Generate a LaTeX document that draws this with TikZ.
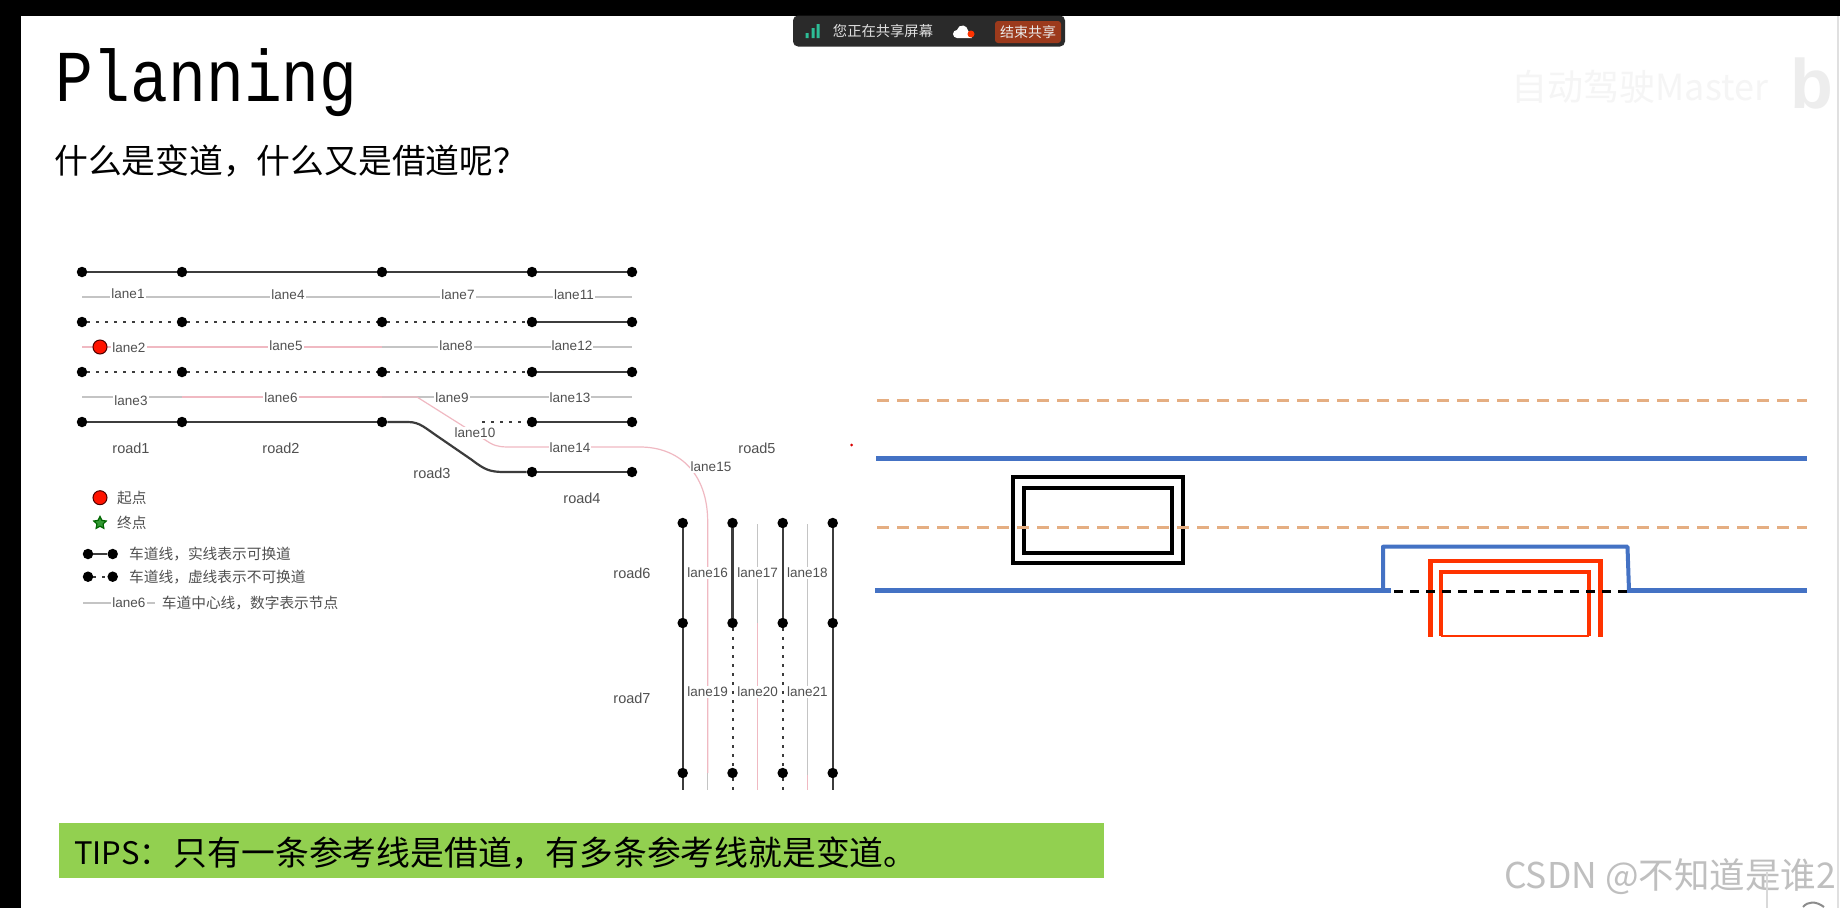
\documentclass[tikz,border=0pt]{standalone}
\usepackage{fontspec}
\setmainfont{Liberation Sans}
\newfontfamily\cjk{Noto Sans CJK SC}
\newfontfamily\headfont{Liberation Mono}
\usetikzlibrary{positioning,shapes.geometric}
\definecolor{lanegray}{HTML}{C4C4C4}
\definecolor{lanepink}{HTML}{F0B9C2}
\definecolor{roadgray}{HTML}{3C3C3C}
\definecolor{labelgray}{HTML}{505050}
\definecolor{bluelane}{HTML}{4472C4}
\definecolor{orangelane}{HTML}{E5AE82}
\definecolor{redcar}{HTML}{FF3300}
\definecolor{tipgreen}{HTML}{92D050}
\definecolor{barback}{HTML}{2A2A2A}
\definecolor{barbutton}{HTML}{9C3A1C}
\definecolor{bargreen}{HTML}{2DBD96}

\begin{document}
\begin{tikzpicture}[
  x=1pt, y=-1pt, on grid,
  dot/.style={circle, fill=black, inner sep=0pt, minimum size=10.5pt},
  road/.style={draw=roadgray, line width=2.2pt},
  roaddot/.style={draw=roadgray, line width=2pt, dash pattern=on 3pt off 6pt},
  lane/.style={draw=lanegray, line width=1.2pt},
  lanered/.style={draw=lanepink, line width=1.2pt},
  lanelabel/.style={font=\fontsize{13.5}{14}\selectfont, text=labelgray, fill=white, inner sep=1pt},
  roadlabel/.style={font=\fontsize{14.5}{15}\selectfont, text=labelgray, inner sep=0pt},
  legendtext/.style={font=\cjk\fontsize{14.7}{15}\selectfont, text=labelgray, inner sep=0pt, anchor=west},
  bluestroke/.style={draw=bluelane, line width=4.5pt},
  orangestroke/.style={draw=orangelane, line width=3pt, dash pattern=on 12pt off 8pt},
  blackbox/.style={draw=black, line width=4.5pt},
  redstroke/.style={draw=redcar, line width=4.5pt}
]
\useasboundingbox (0,0) rectangle (1840,908);
\fill[white] (0,0) rectangle (1840,908);
\fill[black] (0,0) rectangle (1840,16);
\fill[black] (0,0) rectangle (21,908);
\draw[black!12, line width=1.5pt] (1838,16) -- (1838,908);

% heading
\node[anchor=base west, inner sep=0pt, font=\headfont\fontsize{63}{63}\selectfont] (heading) at (55,101) {\scalebox{1}[1.16]{Planning}};
\node[anchor=west, inner sep=0pt, font=\cjk\fontsize{33.8}{34}\selectfont] (question) at (54,161) {什么是变道，什么又是借道呢？};

% share bar
\node[fill=barback, rounded corners=5pt, minimum width=272pt, minimum height=31pt, inner sep=0pt] (sharebar) at (929,31) {};
\fill[bargreen] (805.5,33) rectangle (808.5,38) (811.5,28) rectangle (814.5,38) (816.5,24) rectangle (819.5,38);
\node[font=\cjk\fontsize{14.3}{15}\selectfont, text=black!12, inner sep=0pt] (sharetext) at (883,31) {您正在共享屏幕};
\fill[white] (957,38) arc (270:90:4pt) arc (170:10:5.5pt) -- (972,38) -- cycle;
\node[circle, fill=redcar, inner sep=0pt, minimum size=7pt] (cloudred) at (971,34) {};
\node[fill=barbutton, rounded corners=3pt, minimum width=66pt, minimum height=22pt, inner sep=0pt, font=\cjk\fontsize{14}{15}\selectfont, text=black!8] (stopshare) at (1028,32) {结束共享};

% watermarks
\node[font=\cjk\fontsize{36}{37}\selectfont, text=black!4, inner sep=0pt] (mastermark) at (1640,87) {自动驾驶Master};
\node[font=\bfseries\fontsize{70}{70}\selectfont, text=black!7, anchor=base west, inner sep=0pt] (bilimark) at (1790,108) {b};
\node[font=\cjk\fontsize{35.5}{36}\selectfont, text=black!25, anchor=east, inner sep=0pt] (csdnmark) at (1836,877) {CSDN @不知道是谁2};
\draw[black!15, line width=1.2pt] (1767,872) -- (1767,908);
\draw[black!45, line width=2pt] (1803,907) .. controls (1808,901) and (1816,901) .. (1824,907);

% lane centre lines
\coordinate (r1s) at (82,297);
\coordinate (r1e) at (632,297);
\coordinate (r2s) at (82,347);
\coordinate (r2m) at (382,347);
\coordinate (r2e) at (632,347);
\coordinate (r3s) at (82,397);
\coordinate (r3a) at (182,397);
\coordinate (r3b) at (382,397);
\coordinate (r3e) at (632,397);
\coordinate (turn) at (707.7,773);
\coordinate (turnend) at (707.7,790);
\draw[lane] (r1s) -- (r1e);
\draw[lanered] (r2s) -- (r2m);
\draw[lane] (r2m) -- (r2e);
\draw[lane] (r3s) -- (r3a);
\draw[lanered] (r3a) -- (r3b);
\draw[lane] (r3b) -- (r3e);
\draw[lanered] (r3b) -- (417,397) -- (490,443) .. controls (497,447) and (503,447) .. (512,447) -- (640,447) .. controls (678,447) and (707.7,472) .. (707.7,522) -- (turn);
\draw[lane] (turn) -- (turnend);

\coordinate (l17a) at (757.7,524);
\coordinate (l17b) at (757.7,623);
\coordinate (l17c) at (757.7,790);
\coordinate (l18a) at (807.3,524);
\coordinate (l18b) at (807.3,775);
\coordinate (l18c) at (807.3,790);
\draw[lane] (l17a) -- (l17b);
\draw[lanered] (l17b) -- (l17c);
\draw[lane] (l18a) -- (l18b);
\draw[lanered] (l18b) -- (l18c);

% road nodes
\node[dot] (a1) at (82,272) {};
\node[dot, right=100pt of a1] (a2) {};
\node[dot, right=200pt of a2] (a3) {};
\node[dot, right=150pt of a3] (a4) {};
\node[dot, right=100pt of a4] (a5) {};
\node[dot, below=50pt of a1] (b1) {};
\node[dot, below=50pt of a2] (b2) {};
\node[dot, below=50pt of a3] (b3) {};
\node[dot, below=50pt of a4] (b4) {};
\node[dot, below=50pt of a5] (b5) {};
\node[dot, below=50pt of b1] (c1) {};
\node[dot, below=50pt of b2] (c2) {};
\node[dot, below=50pt of b3] (c3) {};
\node[dot, below=50pt of b4] (c4) {};
\node[dot, below=50pt of b5] (c5) {};
\node[dot, below=50pt of c1] (d1) {};
\node[dot, below=50pt of c2] (d2) {};
\node[dot, below=50pt of c3] (d3) {};
\node[dot, below=50pt of c4] (d4) {};
\node[dot, below=50pt of c5] (d5) {};
\node[dot, below=50pt of d4] (e4) {};
\node[dot, below=50pt of d5] (e5) {};
\coordinate (d4free) at (482,422);

\draw[road] (a1) -- (a2) -- (a3) -- (a4) -- (a5);
\draw[roaddot] (b1) -- (b2) -- (b3) -- (b4);
\draw[road] (b4) -- (b5);
\draw[roaddot] (c1) -- (c2) -- (c3) -- (c4);
\draw[road] (c4) -- (c5);
\draw[road] (d1) -- (d2) -- (d3);
\draw[roaddot] (d4free) -- (d4);
\draw[road] (d4) -- (d5);
\draw[road] (d3) -- (408,422) .. controls (420,422) and (425,428) .. (440,438) -- (472,460) .. controls (485,470) and (490,472) .. (505,472) -- (e4);
\draw[road] (e4) -- (e5);

\node[dot] (v1a) at (682.7,523) {};
\node[dot, below=100pt of v1a] (v1b) {};
\node[dot, below=150pt of v1b] (v1c) {};
\node[dot, right=49.8pt of v1a] (v2a) {};
\node[dot, below=100pt of v2a] (v2b) {};
\node[dot, below=150pt of v2b] (v2c) {};
\node[dot, right=100pt of v1a] (v3a) {};
\node[dot, below=100pt of v3a] (v3b) {};
\node[dot, below=150pt of v3b] (v3c) {};
\node[dot, right=150pt of v1a] (v4a) {};
\node[dot, below=100pt of v4a] (v4b) {};
\node[dot, below=150pt of v4b] (v4c) {};
\coordinate[below=17pt of v1c] (v1end);
\coordinate[below=17pt of v2c] (v2end);
\coordinate[below=17pt of v3c] (v3end);
\coordinate[below=17pt of v4c] (v4end);

\draw[road] (v1a) -- (v1b) -- (v1c) -- (v1end);
\draw[road] (v2a) -- (v2b);
\draw[roaddot] (v2b) -- (v2c) -- (v2end);
\draw[road] (v3a) -- (v3b);
\draw[roaddot] (v3b) -- (v3c) -- (v3end);
\draw[road] (v4a) -- (v4b) -- (v4c) -- (v4end);

% lane labels
\node[lanelabel] (lane1) at (128,294) {lane1};
\node[lanelabel] (lane4) at (288,295) {lane4};
\node[lanelabel] (lane7) at (458,295) {lane7};
\node[lanelabel] (lane11) at (574,295) {lane11};
\node[lanelabel] (lane2) at (129,348) {lane2};
\node[lanelabel] (lane5) at (286,346) {lane5};
\node[lanelabel] (lane8) at (456,346) {lane8};
\node[lanelabel] (lane12) at (572,346) {lane12};
\node[lanelabel] (lane3) at (131,401) {lane3};
\node[lanelabel] (lane6) at (281,398) {lane6};
\node[lanelabel] (lane9) at (452,398) {lane9};
\node[lanelabel] (lane13) at (570,398) {lane13};
\node[lanelabel] (lane10) at (475,433) {lane10};
\node[lanelabel] (lane14) at (570,448) {lane14};
\node[lanelabel] (lane15) at (711,467) {lane15};
\node[lanelabel] (lane16) at (707.7,573) {lane16};
\node[lanelabel] (lane17) at (757.7,573) {lane17};
\node[lanelabel] (lane18) at (807.3,573) {lane18};
\node[lanelabel] (lane19) at (707.7,692) {lane19};
\node[lanelabel] (lane20) at (757.7,692) {lane20};
\node[lanelabel] (lane21) at (807.3,692) {lane21};

% road labels
\node[roadlabel] (road1) at (131,448) {road1};
\node[roadlabel] (road2) at (281,448) {road2};
\node[roadlabel] (road3) at (432,473) {road3};
\node[roadlabel] (road4) at (582,498) {road4};
\node[roadlabel] (road5) at (757,448) {road5};
\node[roadlabel] (road6) at (632,573) {road6};
\node[roadlabel] (road7) at (632,698) {road7};

% start marker and legend
\node[circle, draw=black!70!red, fill=red!85!orange, line width=1pt, inner sep=0pt, minimum size=14pt] (start) at (100,347) {};
\node[circle, draw=black!70!red, fill=red!85!orange, line width=1pt, inner sep=0pt, minimum size=14pt] (startkey) at (100,497.7) {};
\node[legendtext] (starttext) at (117,498) {起点};
\node[star, star points=5, star point ratio=2, draw=black!60!green, fill=green!50!black!80!white, line width=1.2pt, inner sep=0pt, minimum size=13pt] (endkey) at (100,523) {};
\node[legendtext] (endtext) at (117,523) {终点};
\node[dot] (solida) at (88,554) {};
\node[dot, right=24.7pt of solida] (solidb) {};
\draw[road] (solida) -- (solidb);
\node[legendtext] (solidtext) at (129,554) {车道线，实线表示可换道};
\node[dot] (dasha) at (88,576.7) {};
\node[dot, right=24.7pt of dasha] (dashb) {};
\draw[roaddot] (dasha) -- (dashb);
\node[legendtext] (dashtext) at (129,576.7) {车道线，虚线表示不可换道};
\coordinate (keys) at (83,603);
\coordinate (keye) at (155,603);
\draw[lane] (keys) -- (keye);
\node[lanelabel] (lanekey) at (129,603) {lane6};
\node[legendtext] (lanetext) at (161.7,603) {车道中心线，数字表示节点};

% right drawing
\node[circle, fill=red!85!black, inner sep=0pt, minimum size=3pt] (pointer) at (851.5,445) {};
\draw[blackbox] (1013,477) rectangle (1183,563);
\draw[blackbox] (1024,488) rectangle (1172,553);
\draw[orangestroke] (877,400.3) -- (1807,400.3);
\draw[orangestroke] (877,527) -- (1807,527);
\draw[bluestroke] (876,458.3) -- (1807,458.3);
\draw[redstroke] (1430.6,636.7) -- (1430.6,561) -- (1600.6,561) -- (1600.6,636.7);
\draw[draw=redcar, line width=4pt] (1441,635.7) -- (1441,571.7) -- (1589.4,571.7) -- (1589.4,635.7);
\draw[draw=redcar, line width=2pt] (1441,635.7) -- (1589.4,635.7);
\draw[black, line width=3pt, dash pattern=on 9pt off 7pt] (1394,591) -- (1627,591);
\draw[bluestroke, line join=round] (875,590.7) -- (1391,590.7);
\draw[bluestroke, line width=4pt, line join=round] (1383,590.7) -- (1383,546.7) -- (1627.5,546.7) -- (1629,590.7);
\draw[bluestroke] (1627,590.7) -- (1807,590.7);

% tips
\node[fill=tipgreen, minimum width=1045.3pt, minimum height=55.7pt, inner sep=0pt] (tipbar) at (581.4,850.4) {};
\node[anchor=west, inner sep=0pt, font=\cjk\fontsize{31}{32}\selectfont] (tipslabel) at (74,853) {TIPS：};
\node[anchor=west, inner sep=0pt, font=\cjk\fontsize{33.8}{34}\selectfont] (tips) at (173.7,853) {只有一条参考线是借道，有多条参考线就是变道。};
\end{tikzpicture}
\end{document}
